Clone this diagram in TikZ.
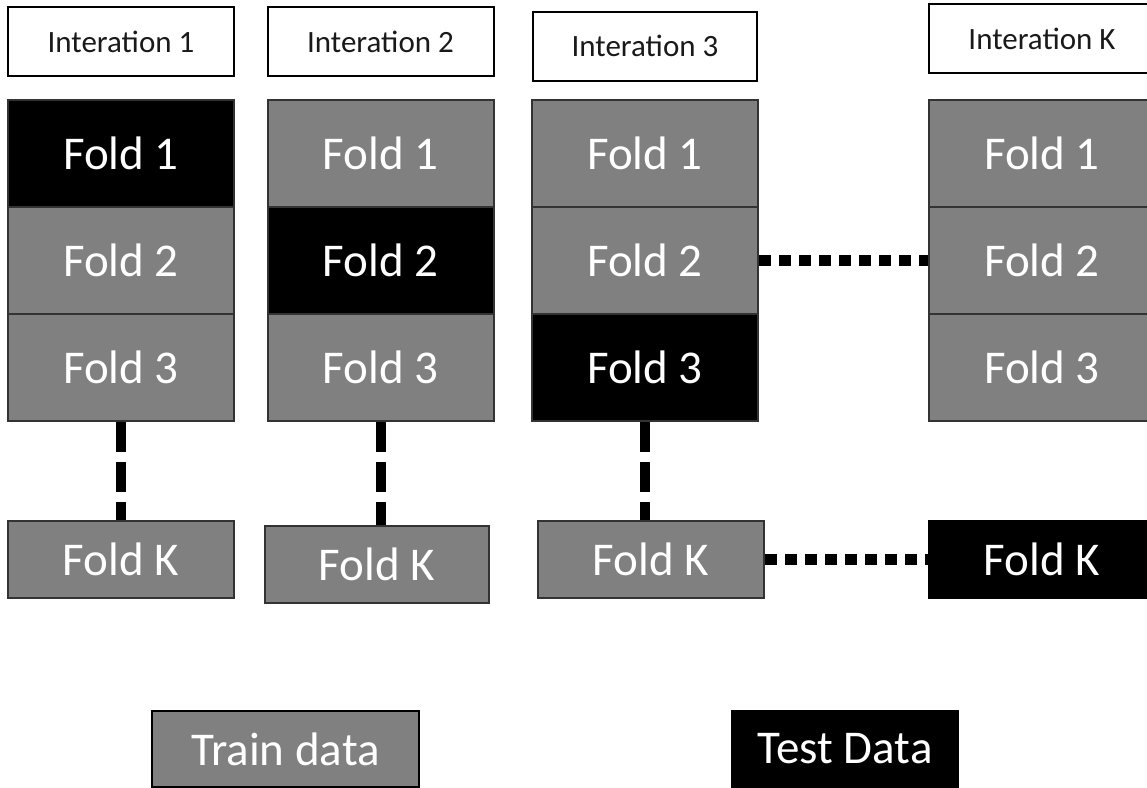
\documentclass[tikz,border=0pt]{standalone}
\usepackage{fontspec}
\setmainfont{Carlito}
\tikzset{
  iterbox/.style={draw=black, line width=2pt, fill=white, minimum width=226pt, minimum height=69pt,
    text=black!90, font=\fontsize{31}{36}\selectfont},
  foldbox/.style={draw=black!80, line width=2pt, fill=black!50, minimum width=226pt, minimum height=107pt,
    text=white, font=\fontsize{47}{56}\selectfont},
  foldk/.style={foldbox, minimum height=77pt},
  vdots/.style={line width=10pt, dash pattern=on 30pt off 10pt},
  hdots/.style={line width=11pt, dash pattern=on 12pt off 8pt},
}
\begin{document}
\begin{tikzpicture}[x=1pt,y=-1pt]
\useasboundingbox (0,0) rectangle (1147,787);
%
\node[iterbox] (it1) at (121,41.5) {Interation 1};
\node[iterbox] (it2) at (380.5,41.5) {Interation 2};
\node[iterbox,minimum width=224pt] (it3) at (645,46) {Interation 3};
\node[iterbox] (itK) at (1042,38.5) {Interation K};
%
\foreach \c/\x/\t in {1/121/1,2/380.5/2,3/645/3,K/1042/4}
  \foreach \f/\y in {1/153.5,2/260.5,3/367.5}{
    \ifnum\f=\t \def\fc{black}\else\def\fc{black!50}\fi
    \node[foldbox,fill=\fc] (f\c\f) at (\x,\y) {Fold \f};
  }
%
\node[foldk] (k1) at (121,559) {Fold K};
\node[foldk,minimum width=224pt] (k2) at (377,564.5) {Fold K};
\node[foldk] (k3) at (651,559.5) {Fold K};
\node[foldk,fill=black,draw=black] (kK) at (1042,559.5) {Fold K};
%
\draw[vdots] (f13.south) -- (f13.south |- k1.north);
\draw[vdots] (f23.south) -- (f23.south |- k2.north);
\draw[vdots] (f33.south) -- (f33.south |- k3.north);
\draw[hdots] (f32.east) -- (fK2.west);
\draw[hdots] (k3.east) -- (kK.west);
%
\node[foldk,draw=black,minimum width=267pt,minimum height=76pt] (train) at (285.5,749) {Train data};
\node[foldk,fill=black,draw=black,minimum height=76pt] (test) at (845,749) {Test Data};
\end{tikzpicture}
\end{document}
